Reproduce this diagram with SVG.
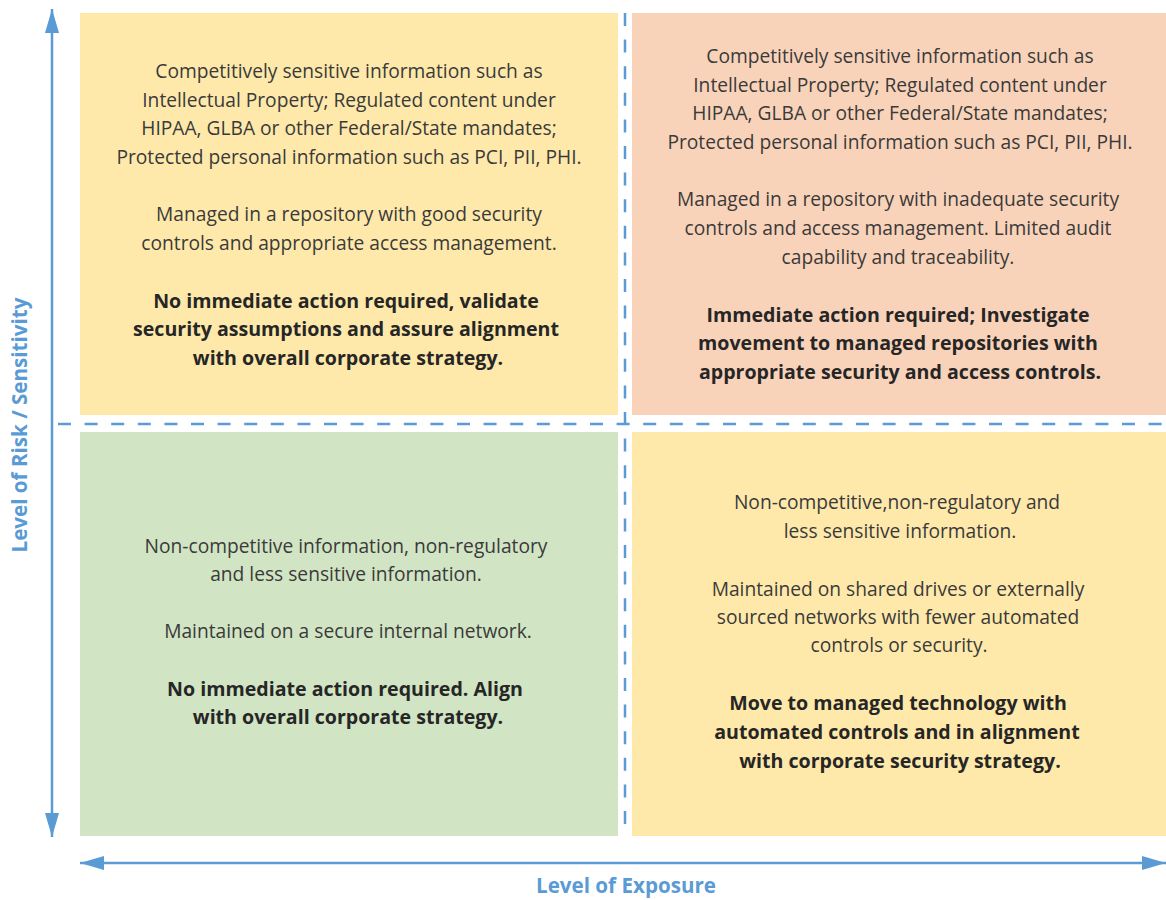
<svg xmlns="http://www.w3.org/2000/svg" width="1166" height="900" viewBox="0 0 1166 900">
<defs>
<style>
.t{font-family:"Open Sans","Liberation Sans",sans-serif;font-size:19.2px;fill:#3a3a3a;text-anchor:middle}
.b{font-weight:bold;font-size:19.6px;fill:#262626}
.ax{font-family:"Open Sans","Liberation Sans",sans-serif;font-size:20.6px;font-weight:bold;fill:#5b9bd5;text-anchor:middle}
.dash{stroke:#5b9bd5;stroke-width:2.5;stroke-dasharray:13 13.6;fill:none}
.axl{stroke:#5b9bd5;stroke-width:2.5;fill:none}
</style>
<marker id="ah" viewBox="0 0 24 14" refX="24" refY="7" markerWidth="24" markerHeight="14" markerUnits="userSpaceOnUse" orient="auto-start-reverse">
<path d="M0,0 L24,7 L0,14 Z" fill="#5b9bd5"/>
</marker>
</defs>
<rect width="1166" height="900" fill="#ffffff"/>
<g id="q-top-left">
<rect x="80" y="13" width="538" height="402" fill="#fee9aa"/>
<text class="t" x="349" y="78">Competitively sensitive information such as</text>
<text class="t" x="349" y="107">Intellectual Property; Regulated content under</text>
<text class="t" x="349" y="135">HIPAA, GLBA or other Federal/State mandates;</text>
<text class="t" x="349" y="164">Protected personal information such as PCI, PII, PHI.</text>
<text class="t" x="349" y="221">Managed in a repository with good security</text>
<text class="t" x="349" y="250">controls and appropriate access management.</text>
<text class="t b" x="346" y="308">No immediate action required, validate</text>
<text class="t b" x="346" y="336">security assumptions and assure alignment</text>
<text class="t b" x="348" y="365">with overall corporate strategy.</text>
</g>
<g id="q-top-right">
<rect x="632" y="13" width="534" height="402" fill="#f9d3b9"/>
<text class="t" x="900" y="63">Competitively sensitive information such as</text>
<text class="t" x="900" y="92">Intellectual Property; Regulated content under</text>
<text class="t" x="900" y="120">HIPAA, GLBA or other Federal/State mandates;</text>
<text class="t" x="900" y="149">Protected personal information such as PCI, PII, PHI.</text>
<text class="t" x="898" y="206">Managed in a repository with inadequate security</text>
<text class="t" x="898" y="235">controls and access management. Limited audit</text>
<text class="t" x="898" y="264">capability and traceability.</text>
<text class="t b" x="898" y="322">Immediate action required; Investigate</text>
<text class="t b" x="898" y="350">movement to managed repositories with</text>
<text class="t b" x="900" y="379">appropriate security and access controls.</text>
</g>
<g id="q-bottom-left">
<rect x="80" y="432" width="538" height="404" fill="#d1e4c3"/>
<text class="t" x="346" y="553">Non-competitive information, non-regulatory</text>
<text class="t" x="346" y="581">and less sensitive information.</text>
<text class="t" x="348" y="638">Maintained on a secure internal network.</text>
<text class="t b" x="345" y="696">No immediate action required. Align</text>
<text class="t b" x="348" y="724">with overall corporate strategy.</text>
</g>
<g id="q-bottom-right">
<rect x="632" y="432" width="534" height="404" fill="#fee9aa"/>
<text class="t" x="897" y="509">Non-competitive,non-regulatory and</text>
<text class="t" x="900" y="538">less sensitive information.</text>
<text class="t" x="898" y="596">Maintained on shared drives or externally</text>
<text class="t" x="898" y="624">sourced networks with fewer automated</text>
<text class="t" x="899" y="652">controls or security.</text>
<text class="t b" x="898" y="710">Move to managed technology with</text>
<text class="t b" x="897" y="739">automated controls and in alignment</text>
<text class="t b" x="900" y="768">with corporate security strategy.</text>
</g>
<g id="connectors">
<line class="dash" x1="625" y1="13" x2="625" y2="836"/>
<line class="dash" x1="58" y1="424" x2="1166" y2="424"/>
<line class="axl" x1="52" y1="837" x2="52" y2="9" marker-start="url(#ah)" marker-end="url(#ah)"/>
<line class="axl" x1="80" y1="863" x2="1166" y2="863" marker-start="url(#ah)" marker-end="url(#ah)"/>
</g>
<g id="axis-labels">
<text class="ax" x="626" y="893">Level of Exposure</text>
<text class="ax" transform="translate(27,425) rotate(-90)" x="0" y="0">Level of Risk / Sensitivity</text>
</g>
</svg>
